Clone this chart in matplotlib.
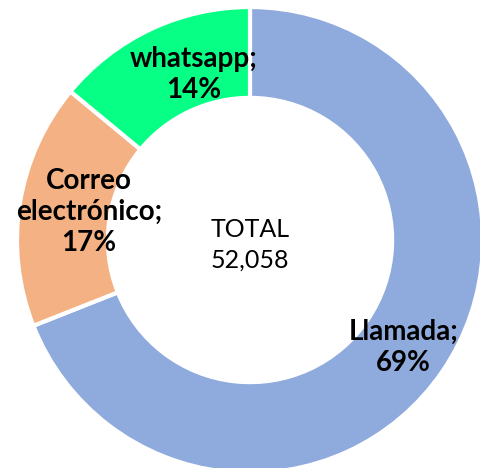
import matplotlib.pyplot as plt

# datos del gráfico (sentido horario desde las 12)
canales = ['Llamada', 'Correo\nelectrónico', 'whatsapp']
valores = [35920, 8850, 7288]
porcentajes = [69, 17, 14]
colores = ['#8FAADC', '#F4B183', '#06FF84']
total = 52058

fig = plt.figure(figsize=(4.8, 4.68), dpi=100)
ax = fig.add_axes([0, 0, 1, 1])

ax.pie(valores, colors=colores, startangle=90, counterclock=False, radius=1,
       wedgeprops=dict(width=0.39, edgecolor='white', linewidth=3))

# posiciones de etiquetas (coordenadas del gráfico)
pos_etiquetas = [(0.66, -0.46), (-0.69, 0.12), (-0.24, 0.71)]
for nombre, pct, (x, y) in zip(canales, porcentajes, pos_etiquetas):
    ax.text(x, y, f'{nombre};\n{pct}%', ha='center', va='center',
            fontsize=20, fontweight='bold', family='Lato', linespacing=1.25)

ax.text(0, -0.02, f'TOTAL\n{total:,}', ha='center', va='center',
        fontsize=18, family='Lato', linespacing=1.4)

ax.set_aspect('equal')
ax.set_xlim(-250 / 233, 230 / 233)
ax.set_ylim(-228 / 233, 240 / 233)
ax.axis('off')

fig.savefig('out.png', dpi=100)
